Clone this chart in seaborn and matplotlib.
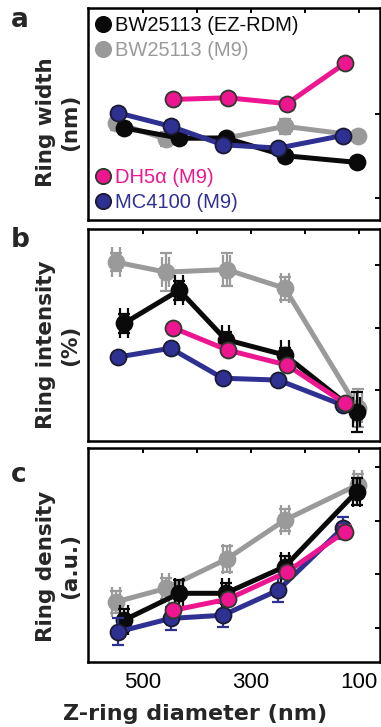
import pandas as pd
import seaborn as sns
import matplotlib.pyplot as plt
from matplotlib.lines import Line2D

# strains, colours and draw order (gray at the back, pink on top)
strains = ["BW25113 (EZ-RDM)", "BW25113 (M9)", "DH5α (M9)", "MC4100 (M9)"]
colors = ["#0a0a0a", "#9a9a9a", "#ee1690", "#2e3192"]
edges = ["#0a0a0a", "#9a9a9a", "#2f3a2f", "#1a1a33"]
zorders = [3, 2, 5, 4]

# Z-ring diameter bin centres (nm)
diam = {
    "BW25113 (EZ-RDM)": [535, 433, 347, 237, 104],
    "BW25113 (M9)": [550, 458, 345, 237, 102],
    "DH5α (M9)": [445, 343, 233, 126],
    "MC4100 (M9)": [546, 449, 352, 249, 130],
}

# panel a: ring width (arbitrary tick units)
width = {
    "BW25113 (EZ-RDM)": [0.83, 0.71, 0.71, 0.50, 0.42],
    "BW25113 (M9)": [0.89, 0.70, 0.71, 0.85, 0.74],
    "DH5α (M9)": [1.17, 1.19, 1.12, 1.60],
    "MC4100 (M9)": [1.01, 0.85, 0.63, 0.59, 0.74],
}
width_err = {
    "BW25113 (EZ-RDM)": [0.07, 0.07, 0.05, 0.07, 0.05],
    "BW25113 (M9)": [0.08, 0.08, 0.06, 0.09, 0.05],
    "DH5α (M9)": [0.03, 0.03, 0.03, 0.03],
    "MC4100 (M9)": [0.06, 0.06, 0.05, 0.05, 0.04],
}

# panel b: ring intensity
intensity = {
    "BW25113 (EZ-RDM)": [1.07, 1.60, 0.81, 0.56, -0.35],
    "BW25113 (M9)": [2.05, 1.89, 1.93, 1.63, -0.29],
    "DH5α (M9)": [1.00, 0.64, 0.40, -0.21],
    "MC4100 (M9)": [0.53, 0.67, 0.19, 0.16, -0.24],
}
intensity_err = {
    "BW25113 (EZ-RDM)": [0.15, 0.15, 0.12, 0.12, 0.32],
    "BW25113 (M9)": [0.15, 0.30, 0.27, 0.18, 0.30],
    "DH5α (M9)": [0.05, 0.05, 0.05, 0.08],
    "MC4100 (M9)": [0.05, 0.05, 0.05, 0.05, 0.05],
}

# panel c: ring density
density = {
    "BW25113 (EZ-RDM)": [0.14, 0.64, 0.64, 1.14, 2.54],
    "BW25113 (M9)": [0.48, 0.73, 1.28, 2.01, 2.67],
    "DH5α (M9)": [0.32, 0.53, 1.04, 1.79],
    "MC4100 (M9)": [-0.08, 0.17, 0.23, 0.70, 1.86],
}
density_err = {
    "BW25113 (EZ-RDM)": [0.20, 0.25, 0.20, 0.20, 0.25],
    "BW25113 (M9)": [0.20, 0.20, 0.25, 0.20, 0.20],
    "DH5α (M9)": [0.10, 0.10, 0.10, 0.12],
    "MC4100 (M9)": [0.25, 0.22, 0.22, 0.22, 0.20],
}

# horizontal (diameter) spread, only shown for the BW25113 strains in b and c
diam_err = {
    "BW25113 (EZ-RDM)": [7, 7, 7, 7, 7],
    "BW25113 (M9)": [7, 7, 7, 7, 7],
}

xticks = [500, 400, 300, 200, 100]
xticklabels = ["500", "", "300", "", "100"]

sns.set_style("white")
plt.rcParams['font.family'] = ['DejaVu Sans']

fig = plt.figure(figsize=(3.81, 7.27), dpi=100)


def draw_panel(ax, values, errors, xerrs, ylim, yticks):
    for strain, color, edge, z in zip(strains, colors, edges, zorders):
        x = diam[strain]
        y = values[strain]
        ax.errorbar(x, y, yerr=errors[strain], fmt='none', ecolor=color,
                    elinewidth=1.6, capsize=4.5, capthick=1.6, zorder=z)
        if xerrs is not None and strain in xerrs:
            ax.errorbar(x, y, xerr=xerrs[strain], fmt='none', ecolor=color,
                        elinewidth=1.6, capsize=11, capthick=1.6, zorder=z)
        df = pd.DataFrame({'diam': x, 'val': y})
        sns.lineplot(data=df, x='diam', y='val', ax=ax, color=color, lw=3.6,
                     marker='o', markersize=11.5, markeredgecolor=edge,
                     markeredgewidth=1.3, estimator=None, zorder=z + 0.5,
                     legend=False)
    ax.set_xlim(602, 61)
    ax.set_ylim(*ylim)
    ax.set_xticks(xticks)
    ax.set_xticklabels(xticklabels, fontfamily='Liberation Sans', fontsize=16)
    ax.set_yticks(yticks)
    ax.set_xlabel('')
    ax.set_ylabel('')
    ax.tick_params(direction='in', length=3.5, width=1.4, top=True, right=True,
                   labelleft=False, labelbottom=False, pad=7, colors='black')
    for sp in ax.spines.values():
        sp.set_linewidth(1.8)
        sp.set_color('black')


ax_a = fig.add_axes([0.231, 0.697, 0.766, 0.292])
ax_b = fig.add_axes([0.231, 0.393, 0.766, 0.292])
ax_c = fig.add_axes([0.231, 0.089, 0.766, 0.295])

draw_panel(ax_a, width, width_err, None, (-0.27, 2.26), [0, 1])
draw_panel(ax_b, intensity, intensity_err, diam_err, (-0.82, 2.58), [0, 1, 2])
draw_panel(ax_c, density, density_err, diam_err, (-0.65, 3.36), [0, 1, 2, 3])
ax_c.tick_params(labelbottom=True)

# legends inside panel a
handles = [Line2D([], [], ls='none', marker='o', markersize=11, color=c,
                  markeredgecolor=e, markeredgewidth=1.3)
           for c, e in zip(colors, edges)]
leg_font = {'family': 'Liberation Sans', 'size': 14.5}
leg1 = ax_a.legend(handles[:2], strains[:2], loc='upper left', frameon=False,
                   prop=leg_font, handlelength=0.7, handletextpad=0.25,
                   labelspacing=0.3, borderaxespad=0.2, borderpad=0.2,
                   labelcolor=colors[:2])
ax_a.add_artist(leg1)
ax_a.legend(handles[2:], strains[2:], loc='lower left', frameon=False,
            prop=leg_font, handlelength=0.7, handletextpad=0.25,
            labelspacing=0.3, borderaxespad=0.2, borderpad=0.2,
            labelcolor=colors[2:])

# axis labels and panel letters
ylab = dict(rotation=90, ha='center', va='center', multialignment='center',
            fontsize=15.5, fontweight='bold', linespacing=1.25)
fig.text(58 / 381, 1 - 122 / 727, 'Ring width\n(nm)', **ylab)
fig.text(58 / 381, 1 - 345 / 727, 'Ring intensity\n(%)', **ylab)
fig.text(58 / 381, 1 - 566 / 727, 'Ring density\n(a.u.)', **ylab)
fig.text(195 / 381, 1 - 720 / 727, 'Z-ring diameter (nm)', ha='center',
         va='baseline', fontsize=16, fontweight='bold')

for letter, ybase in zip('abc', [27, 247, 482]):
    fig.text(11 / 381, 1 - ybase / 727, letter, ha='left', va='baseline',
             fontsize=19, fontweight='bold')

fig.savefig('out.png', dpi=100)
